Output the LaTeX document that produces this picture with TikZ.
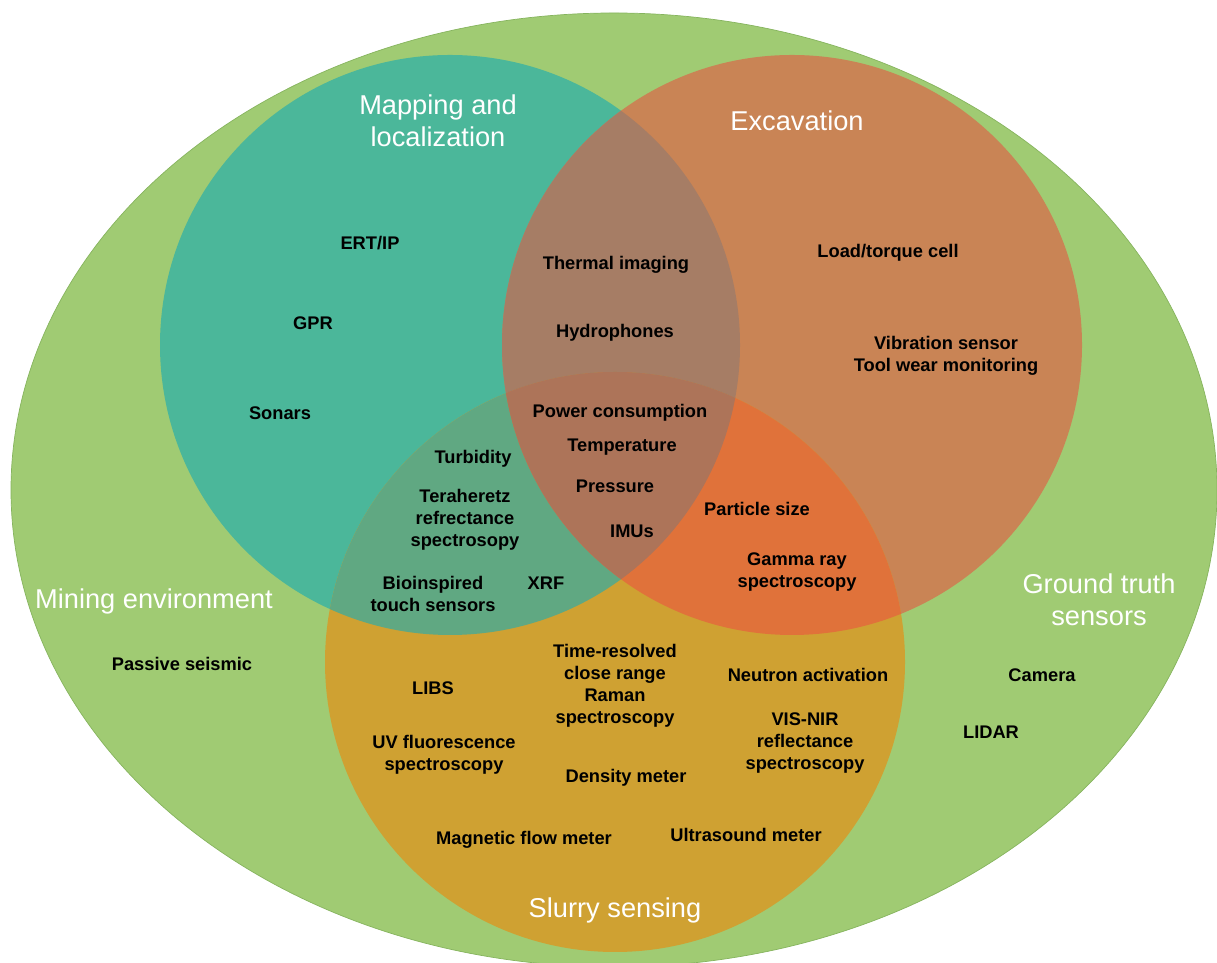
\documentclass[tikz,border=0pt]{standalone}
\usepackage{fontspec}
\setmainfont{Liberation Sans}
\definecolor{envgreen}{HTML}{A0CB73}
\definecolor{envedge}{HTML}{86B45E}
\definecolor{mapteal}{HTML}{4BB79A}
\definecolor{excorange}{HTML}{C98455}
\definecolor{slurgold}{HTML}{CFA132}
\definecolor{mapexc}{HTML}{A67D65}
\definecolor{mapslur}{HTML}{60A882}
\definecolor{excslur}{HTML}{E0723A}
\definecolor{allthree}{HTML}{AD7459}
\newcommand{\mapdisc}{(mapc) circle[radius=5.8]}
\newcommand{\excdisc}{(excc) circle[radius=5.8]}
\newcommand{\slurdisc}{(slurc) circle[radius=5.8]}

\begin{document}
\begin{tikzpicture}[
    lbl/.style={font=\fontsize{10.4}{12.5}\selectfont\bfseries, align=center, inner sep=0pt, yshift=-0.04cm},
    ttl/.style={font=\fontsize{15.5}{18}\selectfont, text=white, align=center, inner sep=0pt},
  ]
  \useasboundingbox (0,0) rectangle (24.34,19.26);
  \coordinate (mapc) at (9.00,12.36);
  \coordinate (excc) at (15.84,12.36);
  \coordinate (slurc) at (12.30,6.02);

  % ---------------- mining environment
  \fill[envgreen, draw=envedge, line width=0.4pt] (12.28,9.46) ellipse [x radius=12.06, y radius=9.54];

  % ---------------- the three discs
  \fill[mapteal] \mapdisc;
  \fill[excorange] \excdisc;
  \fill[slurgold] \slurdisc;

  % ---------------- overlaps
  \begin{scope}
    \clip \mapdisc;
    \fill[mapexc] \excdisc;
    \fill[mapslur] \slurdisc;
  \end{scope}
  \begin{scope}
    \clip \excdisc;
    \fill[excslur] \slurdisc;
  \end{scope}
  \begin{scope}
    \clip \mapdisc;
    \clip \excdisc;
    \fill[allthree] \slurdisc;
  \end{scope}

  % ---------------- titles
  \node[ttl] (tmap) at (8.76,16.84) {Mapping and\\localization};
  \node[ttl] (texc) at (15.94,16.84) {Excavation};
  \node[ttl] (tenv) at (3.08,7.23) {Mining environment};
  \node[ttl] (tgnd) at (21.98,7.26) {Ground truth\\sensors};
  \node[ttl] (tslur) at (12.30,1.05) {Slurry sensing};

  % ---------------- mapping only
  \node[lbl] (ert) at (7.40,14.44) {ERT/IP};
  \node[lbl] (gpr) at (6.26,12.84) {GPR};
  \node[lbl] (sonar) at (5.60,11.04) {Sonars};

  % ---------------- mapping and excavation
  \node[lbl] (therm) at (12.32,14.00) {Thermal imaging};
  \node[lbl] (hydro) at (12.30,12.64) {Hydrophones};

  % ---------------- excavation only
  \node[lbl] (load) at (17.76,14.24) {Load/torque cell};
  \node[lbl] (vib) at (18.92,12.18) {Vibration sensor\\Tool wear monitoring};

  % ---------------- all three
  \node[lbl] (power) at (12.40,11.04) {Power consumption};
  \node[lbl] (temp) at (12.44,10.36) {Temperature};
  \node[lbl] (press) at (12.30,9.58) {Pressure};
  \node[lbl] (imu) at (12.64,8.68) {IMUs};

  % ---------------- mapping and slurry
  \node[lbl] (turb) at (9.46,10.12) {Turbidity};
  \node[lbl] (thz) at (9.30,8.90) {Teraheretz\\refrectance\\spectrosopy};
  \node[lbl] (bio) at (8.66,7.42) {Bioinspired\\touch sensors};
  \node[lbl] (xrf) at (10.92,7.64) {XRF};

  % ---------------- excavation and slurry
  \node[lbl] (part) at (15.14,9.12) {Particle size};
  \node[lbl] (gamma) at (15.94,7.86) {Gamma ray\\spectroscopy};

  % ---------------- slurry only
  \node[lbl] (libs) at (8.66,5.54) {LIBS};
  \node[lbl] (raman) at (12.30,5.58) {Time-resolved\\close range\\Raman\\spectroscopy};
  \node[lbl] (neut) at (16.16,5.80) {Neutron activation};
  \node[lbl] (visnir) at (16.10,4.44) {VIS-NIR\\reflectance\\spectroscopy};
  \node[lbl] (uv) at (8.88,4.20) {UV fluorescence\\spectroscopy};
  \node[lbl] (dens) at (12.52,3.74) {Density meter};
  \node[lbl] (magf) at (10.48,2.50) {Magnetic flow meter};
  \node[lbl] (ultra) at (14.92,2.60) {Ultrasound meter};

  % ---------------- environment and ground truth
  \node[lbl] (seis) at (3.64,6.02) {Passive seismic};
  \node[lbl] (cam) at (20.84,5.80) {Camera};
  \node[lbl] (lidar) at (19.82,4.66) {LIDAR};
\end{tikzpicture}
\end{document}
